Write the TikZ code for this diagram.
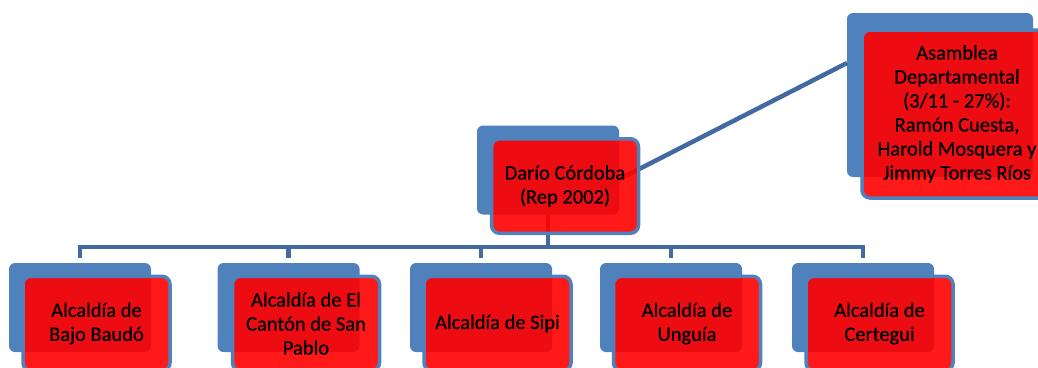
\documentclass[tikz,border=0pt]{standalone}
\usepackage{fontspec}
\newfontfamily\boxfont[FakeBold=0.7]{Carlito}
\usetikzlibrary{positioning}

\definecolor{officeblue}{RGB}{79,129,189}
\definecolor{connblue}{RGB}{66,106,160}
\definecolor{boxred}{RGB}{255,0,0}

\tikzset{
  backbox/.style={fill=officeblue, rounded corners=6pt, inner sep=0pt, outer sep=0pt,
    minimum width=142pt, minimum height=89pt},
  frontbox/.style={fill=boxred, fill opacity=0.9, draw=officeblue, draw opacity=1, text opacity=1,
    line width=3.5pt, rounded corners=8pt, inner sep=2pt, outer sep=0pt, align=center,
    minimum width=147pt, minimum height=94.5pt,
    font=\boxfont\fontsize{20.5}{24}\selectfont},
  conn/.style={draw=connblue, line width=4.5pt},
}

\begin{document}
\begin{tikzpicture}[x=1pt, y=-1pt]
    \useasboundingbox (0,0) rectangle (1038,367);
    \clip (0,0) rectangle (1038,367);
    % back shapes
    \node[backbox] (darb) at (548,170) {};
    \node[backbox, minimum width=186pt, minimum height=164pt] (asab) at (940,95) {};
    \node[backbox] (baub) at (80,307.5) {};
    \node[backbox] (canb) at (288.5,307.5) {};
    \node[backbox] (sipb) at (481,307.5) {};
    \node[backbox] (ungb) at (671,307.5) {};
    \node[backbox] (cerb) at (863,307.5) {};
    % connectors
    \coordinate (bus) at (0,247);
    \draw[conn] ([yshift=5pt]baub.north) -- (baub.north |- bus) -- (cerb.north |- bus) -- ([yshift=5pt]cerb.north);
    \draw[conn] (canb.north |- bus) -- ([yshift=5pt]canb.north);
    \draw[conn] (sipb.north |- bus) -- ([yshift=5pt]sipb.north);
    \draw[conn] (ungb.north |- bus) -- ([yshift=5pt]ungb.north);
    \draw[conn] (darb.south) -- (darb.south |- bus);
    \coordinate (darf-c) at (600,189);
    \draw[conn] (darf-c) -- ([yshift=32pt]asab.west);
    % front shapes
    \node[frontbox] (darf) at (565,186) {Darío Córdoba\\(Rep 2002)};
    \node[frontbox, minimum width=190pt, minimum height=168pt] (asaf) at (957,114)
      {Asamblea\\Departamental\\(3/11 - 27\%):\\Ramón Cuesta,\\Harold Mosquera y\\Jimmy Torres Ríos};
    \node[frontbox] (bauf) at (96.5,323.5) {Alcaldía de\\Bajo Baudó};
    \node[frontbox] (canf) at (306,323.5) {Alcaldía de El\\Cantón de San\\Pablo};
    \node[frontbox] (sipf) at (497.5,323.5) {Alcaldía de Sipi};
    \node[frontbox] (ungf) at (687,323.5) {Alcaldía de\\Unguía};
    \node[frontbox] (cerf) at (879.5,323.5) {Alcaldía de\\Certegui};
\end{tikzpicture}
\end{document}
